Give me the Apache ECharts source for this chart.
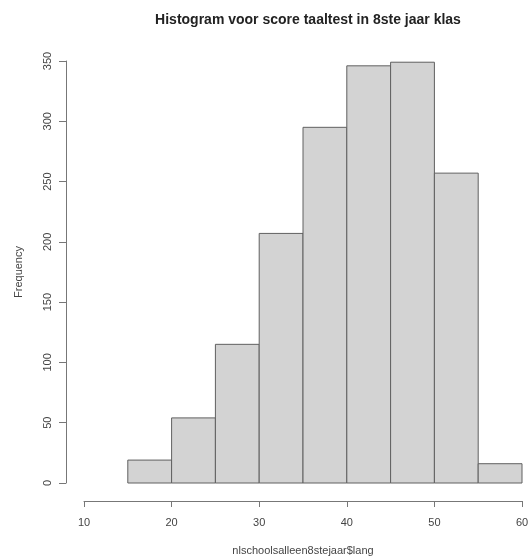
<!DOCTYPE html>
<html>
<head>
<meta charset="utf-8">
<script src="https://cdn.jsdelivr.net/npm/echarts@6/dist/echarts.min.js"></script>
<style>
html,body{margin:0;padding:0;background:#fff;}
#chart{width:531px;height:559px;}
</style>
</head>
<body>
<div id="chart"></div>
<script>
// Histogram bins (lower edge, upper edge) and counts
const binStarts = [15, 20, 25, 30, 35, 40, 45, 50, 55];
const binEnds   = [20, 25, 30, 35, 40, 45, 50, 55, 60];
const counts    = [19, 54, 115, 207, 295, 346, 349, 257, 16];
const xTicks = [10, 20, 30, 40, 50, 60];
const yTicks = [0, 50, 100, 150, 200, 250, 300, 350];

const data = binStarts.map((s, i) => [s, binEnds[i], counts[i]]);

const chart = echarts.init(document.getElementById('chart'), null, {renderer: 'canvas'});
const font = 'Liberation Sans, Arial, sans-serif';
chart.setOption({
  animation: false,
  backgroundColor: '#fff',
  title: {
    text: 'Histogram voor score taaltest in 8ste jaar klas',
    left: 303, top: 8, textAlign: 'center',
    textStyle: {fontFamily: font, fontSize: 14, fontWeight: 'bold', color: '#222'}
  },
  grid: {left: 84, right: 9, top: 61, bottom: 76, containLabel: false, outerBoundsMode: 'none'},
  xAxis: {
    type: 'value', min: xTicks[0], max: xTicks[xTicks.length - 1], interval: 10,
    offset: 18,
    name: 'nlschoolsalleen8stejaar$lang', nameLocation: 'middle', nameGap: 44,
    nameTextStyle: {fontFamily: font, fontSize: 11, color: '#444'},
    axisLine: {show: true, onZero: false, lineStyle: {color: '#777', width: 1}},
    axisTick: {show: true, length: 6, lineStyle: {color: '#777'}},
    axisLabel: {fontFamily: font, fontSize: 11, color: '#444', margin: 16},
    splitLine: {show: false}
  },
  yAxis: {
    type: 'value', min: yTicks[0], max: yTicks[yTicks.length - 1], interval: 50,
    offset: 18,
    name: 'Frequency', nameLocation: 'middle', nameGap: 42,
    nameTextStyle: {fontFamily: font, fontSize: 11, color: '#444'},
    axisLine: {show: true, onZero: false, lineStyle: {color: '#777', width: 1}},
    axisTick: {show: true, length: 7, lineStyle: {color: '#777'}},
    axisLabel: {fontFamily: font, fontSize: 11, color: '#444', rotate: 90, margin: 13,
      align: 'center', verticalAlign: 'bottom'},
    splitLine: {show: false}
  },
  series: [{
    type: 'custom',
    data: data,
    encode: {x: [0, 1], y: 2},
    renderItem: function (params, api) {
      const p0 = api.coord([api.value(0), 0]);
      const p1 = api.coord([api.value(1), api.value(2)]);
      return {
        type: 'rect',
        shape: {x: p0[0], y: p1[1], width: p1[0] - p0[0], height: p0[1] - p1[1]},
        style: {fill: '#d3d3d3', stroke: '#606060', lineWidth: 1}
      };
    }
  }]
});
</script>
</body>
</html>
